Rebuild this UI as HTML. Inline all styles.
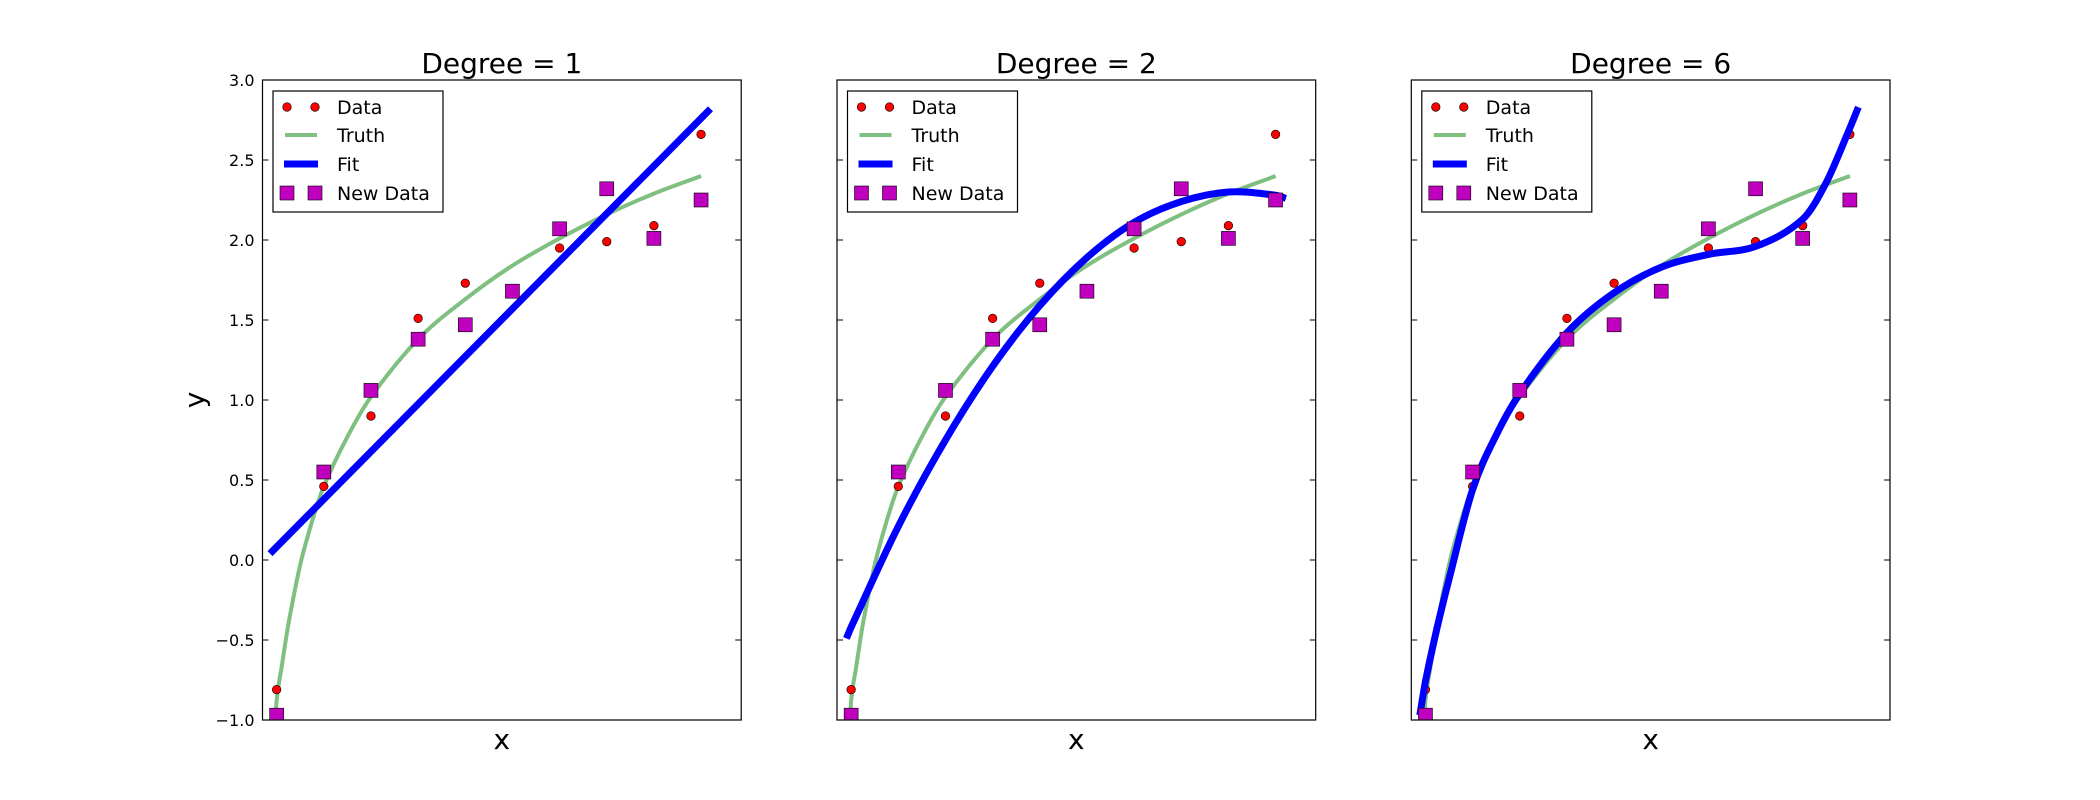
<!DOCTYPE html>
<html><head><meta charset="utf-8"><style>
body{margin:0;background:#fff;}
svg{display:block;font-family:"DejaVu Sans","Liberation Sans",sans-serif;}
</style></head><body>
<svg id="fig" width="2100" height="800" viewBox="0 0 2100 800"></svg>
<script>
// ---- data (x as sample index) ----
const dataX = [0,1,2,3,4,5,6,7,8,9];
const dataY = [-0.81,0.46,0.90,1.51,1.73,1.69,1.95,1.99,2.09,2.66];
const newDataY = [-0.97,0.55,1.06,1.38,1.47,1.68,2.07,2.32,2.01,2.25];
const truthX = [-0.05,0,0.1,0.25,0.5,0.75,1,1.5,2,3,4,5,6,7,8,9];
const truthY = [-1.18,-0.88,-0.68,-0.40,-0.03,0.24,0.46,0.77,1.02,1.38,1.63,1.84,2.01,2.16,2.29,2.40];
const fit1X = [-0.14,9.2];
const fit1Y = [0.04,2.82];
const fit2X = [-0.1,0,1,2,3,4,5,6,7,8,9,9.22];
const fit2Y = [-0.49,-0.42,0.21,0.75,1.21,1.59,1.89,2.11,2.24,2.30,2.28,2.26];
const fit6X = [-0.12,0,0.25,0.5,1,1.5,2,3,4,5,6,7,8,8.5,9,9.18];
const fit6Y = [-0.97,-0.76,-0.42,-0.12,0.44,0.78,1.04,1.42,1.67,1.83,1.91,1.96,2.13,2.36,2.70,2.83];
const yTicks = [3.0,2.5,2.0,1.5,1.0,0.5,0.0,-0.5,-1.0];
const yTickLabels = ["3.0","2.5","2.0","1.5","1.0","0.5","0.0","\u22120.5","\u22121.0"];
const titles = ["Degree = 1","Degree = 2","Degree = 6"];
const fitsX = [fit1X,fit2X,fit6X];
const fitsY = [fit1Y,fit2Y,fit6Y];

const NS="http://www.w3.org/2000/svg";
const svg=document.getElementById('fig');
function mk(tag,attrs,parent){const e=document.createElementNS(NS,tag);for(const k in attrs)e.setAttribute(k,attrs[k]);(parent||svg).appendChild(e);return e;}
const lefts=[262.5,837,1411.3], W=478.7, TOP=80, BOT=720;
const XMIN=-0.30, XMAX=9.851, YMIN=-1, YMAX=3;

function smooth(pts){
  if(pts.length<3) return pts.map((p,i)=>(i?'L':'M')+p[0].toFixed(1)+','+p[1].toFixed(1)).join('');
  let d='M'+pts[0][0].toFixed(1)+','+pts[0][1].toFixed(1);
  for(let i=0;i<pts.length-1;i++){
    const p0=pts[i-1]||pts[i], p1=pts[i], p2=pts[i+1], p3=pts[i+2]||pts[i+1];
    const t1=(p2[0]-p1[0])/(p2[0]-p0[0]||1), t2=(p2[0]-p1[0])/(p3[0]-p1[0]||1);
    const c1=[p1[0]+(p2[0]-p0[0])*t1/3, p1[1]+(p2[1]-p0[1])*t1/3];
    const c2=[p2[0]-(p3[0]-p1[0])*t2/3, p2[1]-(p3[1]-p1[1])*t2/3];
    d+='C'+c1[0].toFixed(1)+','+c1[1].toFixed(1)+' '+c2[0].toFixed(1)+','+c2[1].toFixed(1)+' '+p2[0].toFixed(1)+','+p2[1].toFixed(1);
  }
  return d;
}

lefts.forEach((L,p)=>{
  const sx=v=>L+(v-XMIN)/(XMAX-XMIN)*W;
  const sy=v=>BOT-(v-YMIN)/(YMAX-YMIN)*(BOT-TOP);
  const g=mk('g',{});
  
  
  const cp=mk('clipPath',{id:'cp'+p},g);
  mk('rect',{x:L,y:TOP,width:W,height:BOT-TOP},cp);
  const plot=mk('g',{'clip-path':'url(#cp'+p+')'},g);
  const path=(xs,ys)=>smooth(xs.map((x,i)=>[sx(x),sy(ys[i])]));
  const truth=mk('path',{d:path(truthX,truthY),fill:'none',stroke:'#008000','stroke-opacity':0.5,'stroke-width':4,'stroke-linejoin':'round'},plot);
  
  
  dataX.forEach((x,i)=>{
    const c=mk('circle',{cx:sx(x),cy:sy(dataY[i]),r:4.3,fill:'#ff0000',stroke:'#000','stroke-width':0.6},plot);
    
    
  });
  const fit=mk('path',{d:path(fitsX[p],fitsY[p]),fill:'none',stroke:'#0000ff','stroke-width':7,'stroke-linejoin':'round'},plot);
  
  
  dataX.forEach((x,i)=>{
    const s=mk('rect',{x:sx(x)-7,y:sy(newDataY[i])-7,width:14,height:14,fill:'#bf00bf',stroke:'#000','stroke-width':0.6},plot);
    
    
  });
  yTicks.forEach((t,i)=>{
    mk('line',{x1:L,x2:L+6,y1:sy(t),y2:sy(t),stroke:'#000','stroke-width':1},g);
    mk('line',{x1:L+W-6,x2:L+W,y1:sy(t),y2:sy(t),stroke:'#000','stroke-width':1},g);
    if(p===0){
      const tl=mk('text',{x:L-8,y:sy(t)+6,'text-anchor':'end','font-size':16},g);
      tl.textContent=yTickLabels[i];
      
      
    }
  });
  const fr=mk('rect',{x:L,y:TOP,width:W,height:BOT-TOP,fill:'none',stroke:'#000','stroke-width':1.2},g);
  
  
  const tt=mk('text',{x:L+W/2,y:73,'text-anchor':'middle','font-size':28},g);
  tt.textContent=titles[p];
  
  
  const xl=mk('text',{x:L+W/2,y:749,'text-anchor':'middle','font-size':28},g);
  xl.textContent='x';
  
  
  if(p===0){
    const yl=mk('text',{x:204,y:400,'text-anchor':'middle','font-size':28,transform:'rotate(-90 204 400)'},g);
    yl.textContent='y';
    
    
  }
  const lx=L+10.5;
  const lg=mk('g',{},g);
  
  
  mk('rect',{x:lx,y:91,width:170,height:121,fill:'#fff',stroke:'#000','stroke-width':1.2},lg);
  const rows=[107,135,164,193];
  const names=['Data','Truth','Fit','New Data'];
  [0,1].forEach(k=>mk('circle',{cx:lx+14+k*28,cy:rows[0],r:4.3,fill:'#ff0000',stroke:'#000','stroke-width':0.6},lg));
  mk('line',{x1:lx+12,x2:lx+44,y1:rows[1],y2:rows[1],stroke:'#008000','stroke-opacity':0.5,'stroke-width':4},lg);
  mk('line',{x1:lx+11,x2:lx+45,y1:rows[2],y2:rows[2],stroke:'#0000ff','stroke-width':7},lg);
  [0,1].forEach(k=>mk('rect',{x:lx+7+k*28,y:rows[3]-7,width:14,height:14,fill:'#bf00bf',stroke:'#000','stroke-width':0.6},lg));
  names.forEach((n,i)=>{
    const t=mk('text',{x:lx+64,y:rows[i]+7,'font-size':19},lg);
    t.textContent=n;
    
    
  });
});
</script>
</body></html>
